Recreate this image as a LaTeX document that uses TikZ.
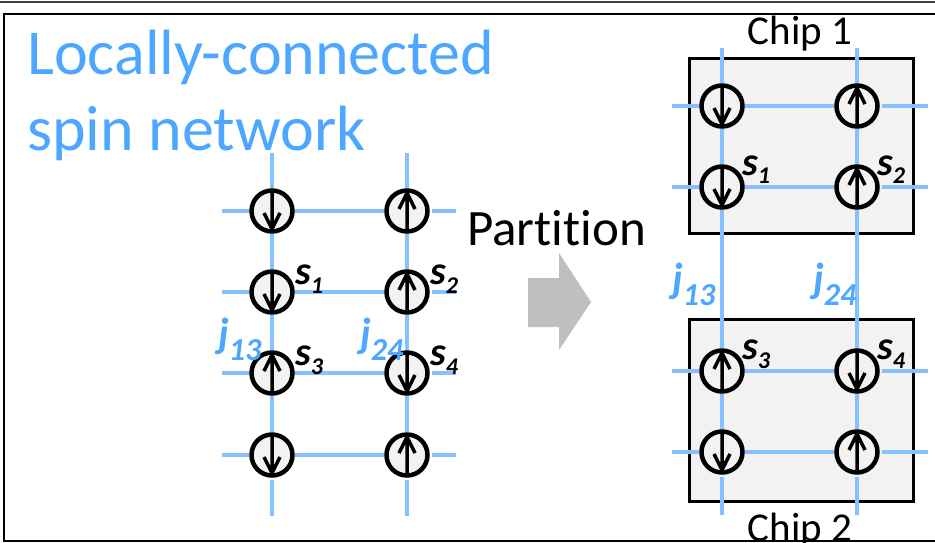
\documentclass[tikz,border=0pt]{standalone}
\usepackage{fontspec}
\setmainfont{Carlito}[Ligatures=NoCommon]
\usetikzlibrary{arrows.meta}
\usetikzlibrary{calc}

\definecolor{titleblue}{RGB}{77,166,255}
\definecolor{linkblue}{RGB}{133,192,255}
\definecolor{spinfill}{RGB}{242,242,242}
\definecolor{arrowgray}{RGB}{191,191,191}

\newcommand{\spinsub}[1]{\raisebox{-9pt}{\fontsize{24}{24}\selectfont #1}}
\newcommand{\linksub}[1]{\raisebox{-13pt}{\fontsize{32}{32}\selectfont #1}}

% spin=1 points up, spin=-1 points down
\tikzset{spin/.style={circle,draw,line width=4.5pt,fill=spinfill,minimum size=41pt,inner sep=0pt,
  path picture={\draw[line width=3.5pt,line join=miter,shift={(path picture bounding box.center)}]
    (0,{21*(#1)}) -- (0,{-18*(#1)}) (-8,{-2*(#1)}) -- (0,{-18*(#1)}) -- (8,{-2*(#1)});}}}

\begin{document}
\begin{tikzpicture}[x=1pt,y=-1pt]
\tikzstyle{link}=[draw=linkblue,line width=3.5pt,shorten <=2pt,shorten >=2pt]
\tikzstyle{chip}=[draw,line width=3pt,fill=spinfill,inner sep=0pt]
\tikzstyle{slabel}=[anchor=base west,inner sep=0pt,font=\fontsize{40}{40}\selectfont\bfseries\itshape]
\tikzstyle{jlabel}=[anchor=base west,inner sep=0pt,text=titleblue,font=\fontsize{42}{42}\selectfont\bfseries\itshape]
\tikzstyle{title}=[anchor=base west,inner sep=0pt,text=titleblue,font=\fontsize{64}{64}\selectfont]
\clip (0,0) rectangle (935,543);
\draw [line width=1.5pt, black!75] (0,2) -- (935,2);

\node [title] (title1) at (27,75) {Locally-connected};
\node [title] (title2) at (27,150) {spin network};

% full lattice
\foreach \r/\y/\a/\b in {1/211/-1/1, 2/292/-1/1, 3/373/1/-1, 4/455/-1/1} {
  \node [spin=\a] (l\r1) at (272,\y) {};
  \node [spin=\b] (l\r2) at (407,\y) {};
  \coordinate (lw\r) at (222,\y);
  \coordinate (le\r) at (458,\y);
}
\foreach \r in {1,...,4}
  \draw [link] (lw\r) -- (l\r1) -- (l\r2) -- (le\r);
\coordinate (ltop1) at (272,153); \coordinate (lbot1) at (272,518);
\coordinate (ltop2) at (407,153); \coordinate (lbot2) at (407,518);
\foreach \c in {1,2}
  \draw [link] (ltop\c) -- (l1\c) -- (l2\c) -- (l3\c) -- (l4\c) -- (lbot\c);

\node [slabel] (sl1) at ($(l21)+(23,-8)$) {s\spinsub{1}};
\node [slabel] (sl2) at ($(l22)+(23,-8)$) {s\spinsub{2}};
\node [slabel] (sl3) at ($(l31)+(23,-8)$) {s\spinsub{3}};
\node [slabel] (sl4) at ($(l32)+(23,-8)$) {s\spinsub{4}};
\node [jlabel] (jl13) at (218,347) {j\linksub{13}};
\node [jlabel] (jl24) at (360,347) {j\linksub{24}};

% partition arrow
\node [anchor=base west, inner sep=0pt, font=\fontsize{51}{51}\selectfont] (partition) at (467,245) {Partition};
\fill [arrowgray] (528,278) -- (559,278) -- (559,253) -- (591,302) -- (559,350) -- (559,327) -- (528,327) -- cycle;

% two chips
\node [chip, minimum width=224pt, minimum height=175pt] (chip1) at (801.5,146) {};
\node [chip, minimum width=224pt, minimum height=182pt] (chip2) at (801.5,410.5) {};
\node [anchor=base, inner sep=0pt, font=\fontsize{41}{41}\selectfont] (chiplabel1) at (800,45) {Chip 1};
\node [anchor=base, inner sep=0pt, font=\fontsize{41}{41}\selectfont] (chiplabel2) at (800,541) {Chip 2};

\foreach \r/\y/\a/\b in {1/106/-1/1, 2/187/-1/1, 3/371/1/-1, 4/452/-1/1} {
  \node [spin=\a] (c\r1) at (722,\y) {};
  \node [spin=\b] (c\r2) at (857,\y) {};
  \coordinate (cw\r) at (672,\y);
  \coordinate (ce\r) at (930,\y);
}
\foreach \r in {1,...,4}
  \draw [link] (cw\r) -- (c\r1) -- (c\r2) -- (ce\r);
\coordinate (ctop1) at (722,48); \coordinate (cbot1) at (722,517);
\coordinate (ctop2) at (857,48); \coordinate (cbot2) at (857,517);
\foreach \c in {1,2}
  \draw [link] (ctop\c) -- (c1\c) -- (c2\c) -- (c3\c) -- (c4\c) -- (cbot\c);

\node [slabel] (sc1) at ($(c21)+(20,-12)$) {s\spinsub{1}};
\node [slabel] (sc2) at ($(c22)+(20,-12)$) {s\spinsub{2}};
\node [slabel] (sc3) at ($(c31)+(20,-12)$) {s\spinsub{3}};
\node [slabel] (sc4) at ($(c32)+(20,-12)$) {s\spinsub{4}};
\node [jlabel] (jc13) at (672,292) {j\linksub{13}};
\node [jlabel] (jc24) at (813,292) {j\linksub{24}};

% frame
\draw [line width=2.5pt] (940,14) -- (4,14) -- (4,541) -- (940,541);
\end{tikzpicture}
\end{document}
